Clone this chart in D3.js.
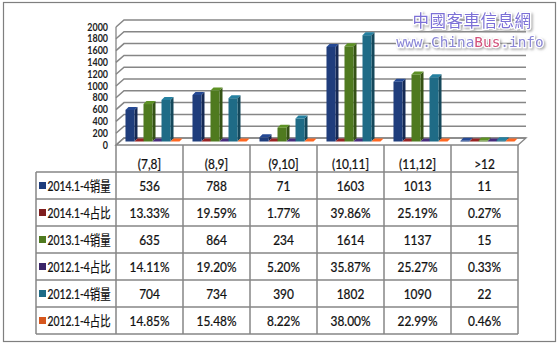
<!DOCTYPE html>
<html>
<head>
<meta charset="utf-8">
<script src="https://cdn.jsdelivr.net/npm/d3@7"></script>
<style>
  html, body { margin: 0; padding: 0; background: #fff; }
  svg { display: block; }
  .cell { font-family: Lato, "Noto Sans CJK SC", sans-serif; fill: #111; stroke: #111; stroke-width: 0.25; }
</style>
</head>
<body>
<svg id="chart" width="558" height="345"></svg>
<script>
// Size classes of buses (length, metres)
const categories = ["(7,8]", "(8,9]", "(9,10]", "(10,11]", "(11,12]", ">12"];

// Series names, in the order they appear in the table
const seriesNames = ["2014.1-4销量", "2014.1-4占比", "2013.1-4销量", "2012.1-4占比", "2012.1-4销量", "2012.1-4占比"];

// Sales volumes and shares (%) for each size class
const sales2014 = [536, 788, 71, 1603, 1013, 11];
const share2014 = [13.33, 19.59, 1.77, 39.86, 25.19, 0.27];
const sales2013 = [635, 864, 234, 1614, 1137, 15];
const share2013 = [14.11, 19.20, 5.20, 35.87, 25.27, 0.33];
const sales2012 = [704, 734, 390, 1802, 1090, 22];
const share2012 = [14.85, 15.48, 8.22, 38.00, 22.99, 0.46];

const yTicks = [0, 200, 400, 600, 800, 1000, 1200, 1400, 1600, 1800, 2000];

const seriesColors = ["#1f3d7c", "#7f1d1d", "#4f7a1f", "#3b2568", "#1f6b86", "#d6561c"];

// Each series: its values as plotted (shares as fractions) and as printed
const series = [
  { name: seriesNames[0], plot: sales2014, text: sales2014.map(String) },
  { name: seriesNames[1], plot: share2014.map(v => v / 100), text: share2014.map(v => v.toFixed(2) + "%") },
  { name: seriesNames[2], plot: sales2013, text: sales2013.map(String) },
  { name: seriesNames[3], plot: share2013.map(v => v / 100), text: share2013.map(v => v.toFixed(2) + "%") },
  { name: seriesNames[4], plot: sales2012, text: sales2012.map(String) },
  { name: seriesNames[5], plot: share2012.map(v => v / 100), text: share2012.map(v => v.toFixed(2) + "%") }
];

const svg = d3.select("#chart");
const gridColor = "#868686";

// Narrow text: a normal face squeezed horizontally around its anchor point
function narrowText(sel, x, y, k, size, anchor, str) {
  sel.append("g")
    .attr("transform", d => `translate(${x(d)},${y(d)}) scale(${k},1)`)
    .append("text")
    .attr("class", "cell")
    .attr("dy", "0.35em")
    .attr("text-anchor", anchor)
    .attr("font-size", size)
    .text(str);
}

// Outer frame
svg.append("rect")
  .attr("x", 3.5).attr("y", 2.5).attr("width", 552).attr("height", 339)
  .attr("fill", "#fff").attr("stroke", "#7f7f7f").attr("stroke-width", 1.2);

// Plot geometry: front plane, with a receding back wall
const left = 116, right = 518;
const DX = 8, DY = 7;          // depth of the floor / side wall
const y = d3.scaleLinear().domain([0, 2000]).range([145, 27]);
const x0 = d3.scaleBand().domain(categories).range([left, right]);
const x1 = d3.scaleBand().domain(d3.range(series.length)).range([0, x0.bandwidth()]).paddingOuter(0.72);

// Floor
svg.append("path")
  .attr("d", `M${left},${y(0)}L${right},${y(0)}L${right + DX},${y(0) - DY}L${left + DX},${y(0) - DY}Z`)
  .attr("fill", "#fff").attr("stroke", gridColor).attr("stroke-width", 1.3);

// Gridlines: slanted on the side wall, then across the back wall
svg.append("g").selectAll("path")
  .data(yTicks)
  .join("path")
  .attr("d", t => `M${left},${y(t)}L${left + DX},${y(t) - DY}L${right + DX},${y(t) - DY}`)
  .attr("fill", "none").attr("stroke", gridColor).attr("stroke-width", 1.5);

// Front edge of the side wall
svg.append("line")
  .attr("x1", left).attr("x2", left).attr("y1", y(2000)).attr("y2", y(0))
  .attr("stroke", gridColor).attr("stroke-width", 1.3);

// Value axis labels
svg.append("g").selectAll("g")
  .data(yTicks)
  .join("g")
  .attr("transform", t => `translate(108,${y(t)}) scale(0.85,1)`)
  .append("text")
  .attr("dy", "0.35em")
  .attr("text-anchor", "end")
  .attr("font-family", "Lato, sans-serif")
  .attr("font-weight", "bold")
  .attr("font-size", 10.5)
  .attr("fill", "#222")
  .text(t => t);

// 3D columns, drawn at mid depth of the floor
const BX = 3, BY = 3.5;        // shift of the bar front to mid depth
const bdx = 3, bdy = 3;        // depth of each bar
const bw = x1.bandwidth();
const shade = (c, k) => d3.color(c)[k > 0 ? "brighter" : "darker"](Math.abs(k)).formatHex();

const barG = svg.append("g");
series.forEach((s, si) => {
  const col = seriesColors[si];
  const g = barG.append("g");
  const bars = categories.map((c, ci) => {
    const xl = x0(c) + x1(si) + BX;
    const yt = y(s.plot[ci]) - BY;
    const yb = y(0) - BY;
    return { xl, yt, yb };
  });
  // right side face
  g.selectAll("path.side").data(bars).join("path").attr("class", "side")
    .attr("d", b => `M${b.xl + bw},${b.yt}L${b.xl + bw + bdx},${b.yt - bdy}L${b.xl + bw + bdx},${b.yb - bdy}L${b.xl + bw},${b.yb}Z`)
    .attr("fill", shade(col, -1.1));
  // front face
  g.selectAll("rect.front").data(bars).join("rect").attr("class", "front")
    .attr("x", b => b.xl).attr("y", b => b.yt)
    .attr("width", bw).attr("height", b => Math.max(0, b.yb - b.yt))
    .attr("fill", col);
  // top face
  g.selectAll("path.top").data(bars).join("path").attr("class", "top")
    .attr("d", b => `M${b.xl},${b.yt}L${b.xl + bw},${b.yt}L${b.xl + bw + bdx},${b.yt - bdy}L${b.xl + bdx},${b.yt - bdy}Z`)
    .attr("fill", shade(col, 0.5));
});

// Data table under the plot
const tableTop = 146, headH = 26, rowH = 27, legendLeft = 36;
const rowTop = i => tableTop + headH + i * rowH;
const tableBottom = rowTop(series.length);
const tg = svg.append("g");
const lineAttrs = sel => sel.attr("stroke", gridColor).attr("stroke-width", 1.5);

// vertical rules between size classes
tg.selectAll("line.v").data(categories.concat(["end"])).join("line").attr("class", "v")
  .attr("x1", (c, i) => i < categories.length ? x0(c) : right)
  .attr("x2", (c, i) => i < categories.length ? x0(c) : right)
  .attr("y1", y(0)).attr("y2", tableBottom)
  .call(lineAttrs);
// left edge of the legend column
tg.append("line").attr("x1", legendLeft).attr("x2", legendLeft)
  .attr("y1", rowTop(0)).attr("y2", tableBottom).call(lineAttrs);
// horizontal rules
tg.selectAll("line.h").data(d3.range(series.length + 1)).join("line").attr("class", "h")
  .attr("x1", legendLeft).attr("x2", right)
  .attr("y1", i => rowTop(i)).attr("y2", i => rowTop(i))
  .call(lineAttrs);

// column headers, sitting low in their row
tg.append("g").selectAll("g").data(categories).join("g")
  .call(sel => narrowText(sel, c => x0(c) + x0.bandwidth() / 2, () => tableTop + 18.5, 0.85, 14, "middle", c => c));

// legend keys and names
const legend = tg.selectAll("g.leg").data(series).join("g").attr("class", "leg");
legend.append("rect")
  .attr("x", 39).attr("y", (s, i) => rowTop(i) + rowH / 2 - 3.5)
  .attr("width", 7).attr("height", 7)
  .attr("fill", (s, i) => seriesColors[i]);
legend.each(function (s, i) {
  narrowText(d3.select(this), () => 47.5, () => rowTop(i) + rowH / 2 + 0.5, 0.74, 14, "start", () => s.name);
});

// values
series.forEach((s, si) => {
  tg.append("g").selectAll("g").data(categories).join("g")
    .call(sel => narrowText(sel, c => x0(c) + x0.bandwidth() / 2, () => rowTop(si) + rowH / 2 + 0.5, 0.85, 14, "middle",
      (c, ci) => s.text[ci]));
});

// Site mark in the top-right corner
const defs = svg.append("defs");
const f = defs.append("filter").attr("id", "mark-shadow").attr("x", "-10%").attr("y", "-30%").attr("width", "130%").attr("height", "170%");
f.append("feDropShadow").attr("dx", 1.5).attr("dy", 1.5).attr("stdDeviation", 0.8).attr("flood-color", "#9a9a9a").attr("flood-opacity", 0.8);

const mark = svg.append("g").attr("filter", "url(#mark-shadow)");
mark.append("text")
  .attr("x", 472).attr("y", 27)
  .attr("text-anchor", "middle")
  .attr("font-family", "'Noto Sans CJK TC', 'Noto Sans CJK SC', sans-serif")
  .attr("font-size", 16.5)
  .attr("letter-spacing", 0.5)
  .attr("fill", "#7b6fd6")
  .attr("stroke", "#fff").attr("stroke-width", 2.5).attr("paint-order", "stroke")
  .text("中國客車信息網");
const url = mark.append("text")
  .attr("x", 470).attr("y", 47)
  .attr("text-anchor", "middle")
  .attr("font-family", "'DejaVu Sans Mono', monospace")
  .attr("font-size", 14.4)
  .attr("fill", "#8a86d6")
  .attr("stroke", "#fff").attr("stroke-width", 2.5).attr("paint-order", "stroke");
url.append("tspan").text("www.China");
url.append("tspan").attr("fill", "#d2507a").text("Bus");
url.append("tspan").text(".info");
</script>
</body>
</html>
